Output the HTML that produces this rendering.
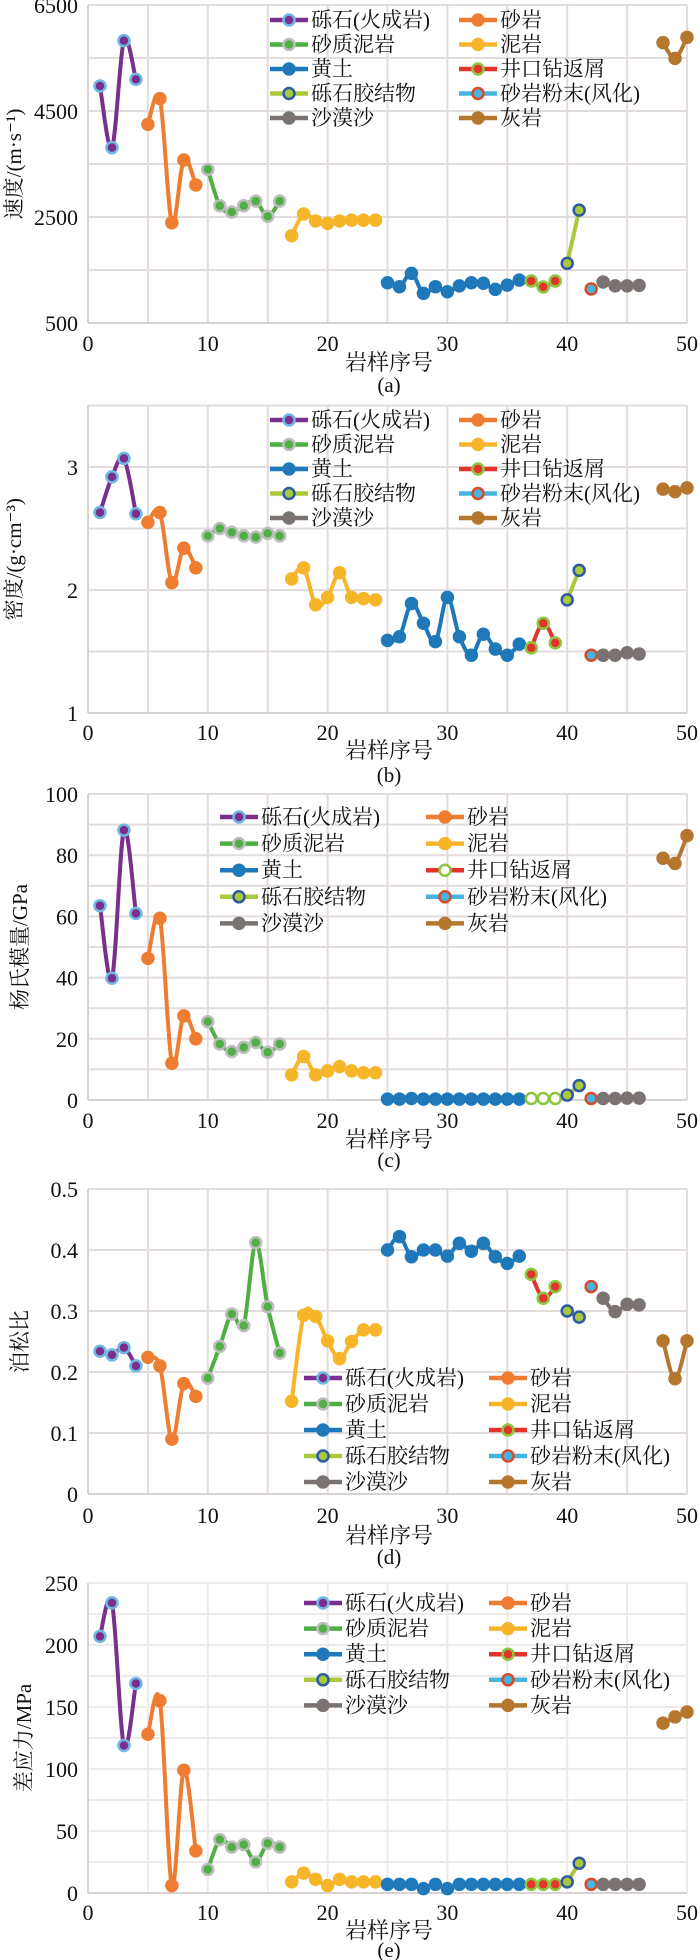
<!DOCTYPE html>
<html><head><meta charset="utf-8"><style>
html,body{margin:0;padding:0;background:#fff;}
svg{display:block;}
text{font-family:"Liberation Serif","Noto Serif CJK SC","Noto Sans CJK SC",serif;fill:#111;}
</style></head><body>
<svg id="chart" width="700" height="1960" viewBox="0 0 700 1960" xmlns="http://www.w3.org/2000/svg"></svg>
<script>
const seriesNames = ["砾石(火成岩)","砂岩","砂质泥岩","泥岩","黄土","井口钻返屑","砾石胶结物","砂岩粉末(风化)","沙漠沙","灰岩"];
const seriesStartX = [1,5,10,17,25,37,40,42,43,48];
const velocity = [
 [4972,3808,5827,5097],
 [4248,4733,2393,3575,3104],
 [3399,2713,2594,2713,2800,2512,2800],
 [2147,2556,2424,2380,2424,2440,2440,2440],
 [1260,1185,1437,1060,1185,1090,1200,1260,1250,1135,1215,1310],
 [1292,1179,1292],
 [1625,2630],
 [1142],
 [1274,1200,1200,1210],
 [5790,5494,5890]];
const density = [
 [2.63,2.92,3.07,2.62],
 [2.55,2.63,2.06,2.34,2.18],
 [2.44,2.50,2.47,2.44,2.43,2.46,2.44],
 [2.09,2.18,1.88,1.94,2.14,1.94,1.93,1.92],
 [1.59,1.62,1.89,1.73,1.58,1.94,1.62,1.47,1.64,1.52,1.47,1.56],
 [1.53,1.73,1.57],
 [1.92,2.16],
 [1.47],
 [1.47,1.47,1.49,1.48],
 [2.82,2.80,2.83]];
const youngs = [
 [63.5,39.8,88.2,61],
 [46.3,59.4,12,27.5,20],
 [25.6,18.3,15.8,17.2,18.8,15.6,18.3],
 [8.2,14.2,8.2,9.5,10.9,9.5,8.9,8.9],
 [0.3,0.3,0.5,0.3,0.3,0.3,0.3,0.3,0.3,0.3,0.3,0.3],
 [0.5,0.5,0.5],
 [1.6,4.7],
 [0.5],
 [0.5,0.5,0.6,0.6],
 [79,77.3,86.4]];
const poisson = [
 [0.234,0.228,0.240,0.210],
 [0.224,0.210,0.090,0.181,0.160],
 [0.190,0.242,0.295,0.276,0.412,0.307,0.231],
 [0.152,0.293,0.291,0.251,0.222,0.250,0.269,0.269],
 [0.400,0.422,0.389,0.400,0.400,0.390,0.411,0.398,0.411,0.389,0.378,0.390],
 [0.360,0.321,0.340],
 [0.300,0.290],
 [0.340],
 [0.321,0.299,0.311,0.310],
 [0.251,0.189,0.251]];
const stress = [
 [207,234,119,169],
 [128,155,6,99,34],
 [19,43,37,39,25,40,37],
 [9,16,11,6,11,9,9,9],
 [7,7,7,3.5,7,3.5,7,7,7,7,7,7],
 [7,7,7],
 [9,24],
 [7],
 [7,7,7,7],
 [137,142,146]];
const xTicks = [0,10,20,30,40,50];

const lineColors = ["#7a2f8e","#ee7d31","#4fae44","#f7b52a","#1f78b9","#e2342b","#a9c83c","#46b4e1","#7a7371","#b5762d"];
const markFill = ["#7a2f8e","#ee7d31","#4fae44","#f7b52a","#1f78b9","#e2342b","#a9c83c","#46b4e1","#7a7371","#b5762d"];
const markStroke = ["#6fb8e0","#ee7d31","#bdbdbd","#f7b52a","#1f78b9","#8cc63f","#2f5aa0","#d9492a","#7a7371","#b5762d"];

const NS="http://www.w3.org/2000/svg";
const svg=document.getElementById('chart');
function mk(tag,attrs,parent){const e=document.createElementNS(NS,tag);for(const k in attrs)e.setAttribute(k,attrs[k]);(parent||svg).appendChild(e);return e;}
const X0=88,X1=687;
function xs(v){return X0+(v/50)*(X1-X0);}

const panels=[
 {key:"velocity",data:velocity,min:500,max:6500,top:5,bottom:323,grid:1000,labels:[500,2500,4500,6500],ylab:"速度/(m·s⁻¹)",ylx:14,sub:"(a)",tickY:343,xlabY:362,subY:385,legend:{lx:289,rx:478,y:20,dy:24.5}},
 {key:"density",data:density,min:1,max:3.5,top:405.5,bottom:713,grid:0.5,labels:[1,2,3],ylab:"密度/(g·cm⁻³)",ylx:14,sub:"(b)",tickY:732,xlabY:750,subY:775,legend:{lx:289,rx:478,y:420,dy:24.5}},
 {key:"youngs",data:youngs,min:0,max:100,top:794,bottom:1100,grid:10,labels:[0,20,40,60,80,100],ylab:"杨氏模量/GPa",ylx:20,sub:"(c)",tickY:1120,xlabY:1139,subY:1160,legend:{lx:239,rx:445,y:817,dy:26.6},hollowDrill:true},
 {key:"poisson",data:poisson,min:0,max:0.5,top:1189,bottom:1494,grid:0.1,labels:[0,0.1,0.2,0.3,0.4,0.5],ylab:"泊松比",ylx:20,sub:"(d)",tickY:1515,xlabY:1535,subY:1557,legend:{lx:323,rx:508,y:1378,dy:26}},
 {key:"stress",data:stress,min:0,max:250,top:1583,bottom:1893,grid:25,labels:[0,50,100,150,200,250],ylab:"差应力/MPa",ylx:24,sub:"(e)",tickY:1912,xlabY:1930,subY:1950,legend:{lx:323,rx:508,y:1603,dy:25.6},faint:true}
];

function smoothPath(pts){
 if(pts.length===1)return "";
 let d="M"+pts[0][0]+","+pts[0][1];
 for(let i=0;i<pts.length-1;i++){
  const p0=pts[i-1]||pts[i],p1=pts[i],p2=pts[i+1],p3=pts[i+2]||p2;
  const c1=[p1[0]+(p2[0]-p0[0])/6,p1[1]+(p2[1]-p0[1])/6];
  const c2=[p2[0]-(p3[0]-p1[0])/6,p2[1]-(p3[1]-p1[1])/6];
  d+=" C"+c1[0].toFixed(1)+","+c1[1].toFixed(1)+" "+c2[0].toFixed(1)+","+c2[1].toFixed(1)+" "+p2[0].toFixed(1)+","+p2[1].toFixed(1);
 }
 return d;
}

panels.forEach((P,pi)=>{
 const g=mk('g',{});
 
 
 const ys=v=>P.bottom-(v-P.min)/(P.max-P.min)*(P.bottom-P.top);
 const gc=P.faint?"#efeaea":"#e3dcdc";
 for(let v=P.min;v<=P.max+1e-9;v+=P.grid){
  const l=mk('line',{x1:X0,x2:X1,y1:ys(v),y2:ys(v),stroke:gc,'stroke-width':2},g);
  
  
 }
 for(let v=5;v<=50;v+=5){
  const l=mk('line',{x1:xs(v),x2:xs(v),y1:P.top,y2:P.bottom,stroke:gc,'stroke-width':2},g);
  
  
 }
 const ax=mk('line',{x1:X0,x2:X0,y1:P.top,y2:P.bottom,stroke:"#d8d2d2",'stroke-width':2},g);
 
 
 const bx=mk('line',{x1:X0,x2:X1,y1:P.bottom,y2:P.bottom,stroke:"#d8d2d2",'stroke-width':2},g);
 
 
 P.labels.forEach(v=>{
  const t=mk('text',{x:78,y:ys(v)+8,'text-anchor':'end','font-size':22},g);
  t.textContent=String(v);
  
  
 });
 xTicks.forEach(v=>{
  const t=mk('text',{x:xs(v),y:P.tickY+8,'text-anchor':'middle','font-size':22},g);
  t.textContent=String(v);
  
  
 });
 const xl=mk('text',{x:389,y:P.xlabY+8,'text-anchor':'middle','font-size':22},g);
 xl.textContent="岩样序号";
 
 
 const sb=mk('text',{x:389,y:P.subY+7,'text-anchor':'middle','font-size':21},g);
 sb.textContent=P.sub;
 
 
 const cy=(P.top+P.bottom)/2;
 const yl=mk('text',{x:P.ylx,y:cy,'text-anchor':'middle','font-size':21,transform:'rotate(-90 '+P.ylx+' '+cy+')','dominant-baseline':'central'},g);
 yl.textContent=P.ylab;
 
 
 P.data.forEach((vals,si)=>{
  const pts=vals.map((v,i)=>[xs(seriesStartX[si]+i),ys(v)]);
  const sg=mk('g',{},g);
  
  
  if(pts.length>1){
   const p=mk('path',{d:smoothPath(pts),fill:'none',stroke:lineColors[si],'stroke-width':4,'stroke-linejoin':'round'},sg);
   
   
  }
  pts.forEach(pt=>{
   const fill=(P.hollowDrill&&si===5)?"#ffffff":markFill[si];
   const c=mk('circle',{cx:pt[0],cy:pt[1],r:5.5,fill:fill,stroke:markStroke[si],'stroke-width':2.5},sg);
   
   
  });
 });
 const L=P.legend;
 const lg=mk('g',{},g);
 
 
 const order=[[0,2,4,6,8],[1,3,5,7,9]];
 order.forEach((col,ci)=>{
  const mx=ci===0?L.lx:L.rx;
  col.forEach((si,ri)=>{
   const y=L.y+ri*L.dy;
   const e=mk('g',{},lg);
   
   
   mk('line',{x1:mx-19,x2:mx+19,y1:y,y2:y,stroke:lineColors[si],'stroke-width':4.5},e);
   const fill=(P.hollowDrill&&si===5)?"#ffffff":markFill[si];
   mk('circle',{cx:mx,cy:y,r:5.5,fill:fill,stroke:markStroke[si],'stroke-width':2.5},e);
   const t=mk('text',{x:mx+22,y:y+7,'font-size':21},e);
   t.textContent=seriesNames[si];
  });
 });
});
</script>
</body></html>
